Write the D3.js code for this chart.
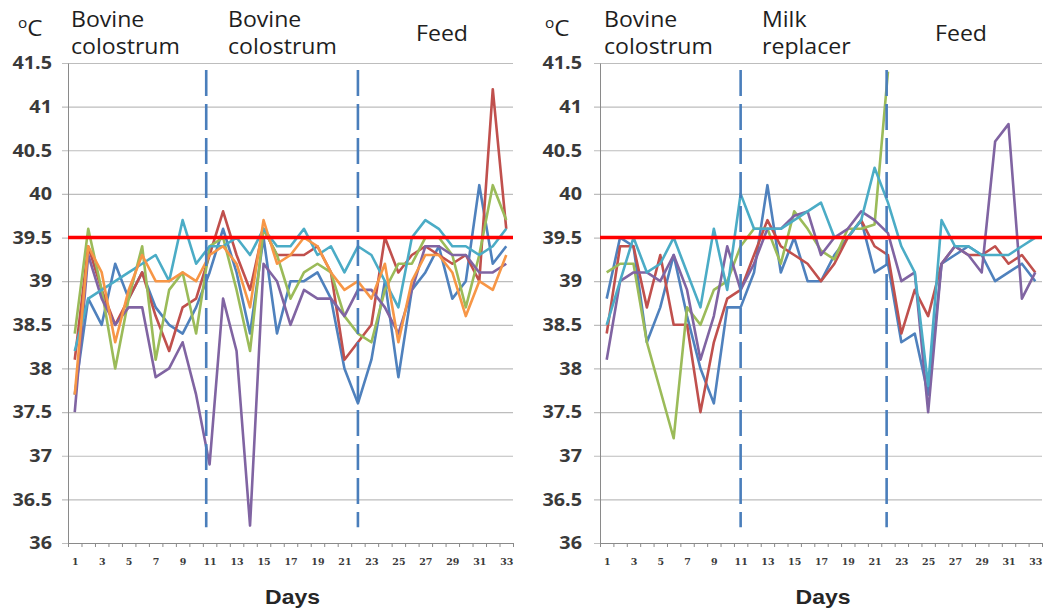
<!DOCTYPE html>
<html>
<head>
<meta charset="utf-8">
<script src="https://cdn.jsdelivr.net/npm/d3@7"></script>
<style>
  body { margin: 0; background: #fff; }
  .grid line { stroke: #bdbdbd; stroke-width: 1.2; }
  .grid path { display: none; }
  .axis path, .axis line { stroke: #8a8a8a; }
  .ylab text { font-family: "Open Sans", sans-serif; font-weight: bold; font-size: 18px; fill: #3a3a3a; }
  .xlab text { font-family: "DejaVu Serif", serif; font-weight: bold; font-size: 9.5px; fill: #3a3a3a; }
  .head { font-family: "Open Sans", sans-serif; font-size: 21px; fill: #1e1e1e; }
  .days { font-family: "Liberation Sans", Arial, sans-serif; font-weight: bold; font-size: 20px; fill: #262626; }
</style>
</head>
<body>
<div class="chart"></div>
<script>
var svgWidth = 1045;
var svgHeight = 613;

// categories and ticks
var days = [1, 2, 3, 4, 5, 6, 7, 8, 9, 10, 11, 12, 13, 14, 15, 16, 17, 18, 19, 20,
  21, 22, 23, 24, 25, 26, 27, 28, 29, 30, 31, 32, 33];
var dayLabels = [1, 3, 5, 7, 9, 11, 13, 15, 17, 19, 21, 23, 25, 27, 29, 31, 33];
var yTicks = [36, 36.5, 37, 37.5, 38, 38.5, 39, 39.5, 40, 40.5, 41, 41.5];
var threshold = 39.5;

// left panel: bovine colostrum / bovine colostrum / feed
var blueL = [37.7, 38.8, 38.5, 39.2, 38.8, 39.1, 38.7, 38.5, 38.4, 38.7, 39.1, 39.6, 39.1, 38.4, 39.5, 38.4, 39.0,
  39.0, 39.1, 38.8, 38.0, 37.6, 38.1, 39.0, 37.9, 38.9, 39.1, 39.4, 38.8, 39.0, 40.1, 39.2, 39.4];
var redL = [38.1, 39.4, 38.9, 38.5, 38.8, 39.1, 38.6, 38.2, 38.7, 38.8, 39.3, 39.8, 39.3, 38.9, 39.6, 39.3, 39.3,
  39.3, 39.4, 39.1, 38.1, 38.3, 38.5, 39.5, 39.1, 39.3, 39.4, 39.3, 39.2, 39.3, 39.0, 41.2, 39.6];
var greenL = [38.4, 39.6, 38.9, 38.0, 38.8, 39.4, 38.1, 38.9, 39.1, 38.4, 39.4, 39.5, 38.9, 38.2, 39.6, 39.3, 38.8,
  39.1, 39.2, 39.1, 38.6, 38.4, 38.3, 38.9, 39.2, 39.2, 39.5, 39.5, 39.3, 38.7, 39.3, 40.1, 39.7];
var purpleL = [37.5, 39.3, 38.8, 38.5, 38.7, 38.7, 37.9, 38.0, 38.3, 37.7, 36.9, 38.8, 38.2, 36.2, 39.2, 39.0, 38.5,
  38.9, 38.8, 38.8, 38.6, 38.9, 38.9, 38.7, 38.4, 38.9, 39.4, 39.4, 39.3, 39.3, 39.1, 39.1, 39.2];
var aquaL = [38.2, 38.8, 38.9, 39.0, 39.1, 39.2, 39.3, 39.0, 39.7, 39.2, 39.4, 39.4, 39.5, 39.3, 39.6, 39.4, 39.4,
  39.6, 39.3, 39.4, 39.1, 39.4, 39.3, 39.0, 38.7, 39.5, 39.7, 39.6, 39.4, 39.4, 39.3, 39.4, 39.6];
var orangeL = [37.7, 39.4, 39.1, 38.3, 38.9, 39.3, 39.0, 39.0, 39.1, 39.0, 39.3, 39.4, 39.2, 38.7, 39.7, 39.2, 39.3,
  39.5, 39.4, 39.1, 38.9, 39.0, 38.8, 39.2, 38.3, 39.0, 39.3, 39.3, 39.1, 38.6, 39.0, 38.9, 39.3];

// right panel: bovine colostrum / milk replacer / feed
var blueR = [38.8, 39.5, 39.4, 38.3, 38.7, 39.3, 38.6, 38.0, 37.6, 38.7, 38.7, 39.1, 40.1, 39.1, 39.5, 39.0, 39.0,
  39.3, 39.5, 39.7, 39.1, 39.2, 38.3, 38.4, 37.7, 39.2, 39.3, 39.4, 39.3, 39.0, 39.1, 39.2, 39.0];
var redR = [38.4, 39.4, 39.4, 38.7, 39.3, 38.5, 38.5, 37.5, 38.3, 38.8, 38.9, 39.3, 39.7, 39.4, 39.3, 39.2, 39.0,
  39.2, 39.5, 39.7, 39.4, 39.3, 38.4, 38.9, 38.6, 39.2, 39.4, 39.3, 39.3, 39.4, 39.2, 39.3, 39.1];
var greenR = [39.1, 39.2, 39.2, 38.3, 37.75, 37.2, 38.7, 38.5, 38.9, 39.0, 39.4, 39.6, 39.6, 39.2, 39.8, 39.6, 39.35,
  39.25, 39.6, 39.6, 39.65, 41.4, null, null, null, null, null, null, null, null, null, null, null];
var purpleR = [38.1, 39.0, 39.1, 39.1, 39.0, 39.3, 38.9, 38.1, 38.6, 39.4, 38.9, 39.2, 39.6, 39.6, 39.75, 39.8, 39.3,
  39.5, 39.6, 39.8, 39.7, 39.55, 39.0, 39.1, 37.5, 39.2, 39.4, 39.3, 39.1, 40.6, 40.8, 38.8, 39.1];
var aquaR = [38.5, 39.0, 39.5, 39.1, 39.2, 39.5, 39.1, 38.7, 39.6, 38.9, 40.0, 39.6, 39.6, 39.6, 39.7, 39.8, 39.9,
  39.5, 39.5, 39.7, 40.3, 39.9, 39.4, 39.1, 37.8, 39.7, 39.4, 39.4, 39.3, 39.3, 39.3, 39.4, 39.5];

var colors = {
  blue: "#4f81bd",
  red: "#c0504d",
  green: "#9bbb59",
  purple: "#8064a2",
  aqua: "#4bacc6",
  orange: "#f79646"
};

// the source picture is a little stretched sideways, so is the text
var stretch = 1.1;

var svg = d3
  .select(".chart")
  .append("svg")
  .attr("width", svgWidth)
  .attr("height", svgHeight);

var plotTop = 63;
var plotBottom = 543;

function drawPanel(p) {
  var width = p.right - p.left;
  var height = plotBottom - plotTop;

  var g = svg.append("g")
    .attr("transform", `translate(${p.left}, ${plotTop})`);

  // day positions: category centres at integers, edges at halves
  var xScale = d3.scaleLinear()
    .domain([0.5, days.length + 0.5])
    .range([0, width]);

  var yScale = d3.scaleLinear()
    .domain([36, 41.5])
    .range([height, 0]);

  // horizontal gridlines (they also act as the y tick marks)
  g.append("g")
    .classed("grid", true)
    .attr("transform", `translate(${width}, 0)`)
    .call(d3.axisLeft(yScale).tickValues(yTicks).tickSize(width + 6).tickFormat(""));

  // y axis line + labels
  var yAxis = g.append("g")
    .classed("axis ylab", true)
    .call(d3.axisLeft(yScale).tickValues(yTicks).tickSize(0).tickFormat(d => String(d)));
  yAxis.selectAll(".tick text")
    .attr("x", 0)
    .attr("transform", `translate(${-p.labelPad}, 0) scale(${stretch}, 1)`);

  // x axis: line with small tick marks at category edges
  var edges = days.map(d => d - 0.5).concat([days.length + 0.5]);
  g.append("g")
    .classed("axis", true)
    .attr("transform", `translate(0, ${height})`)
    .call(d3.axisBottom(xScale).tickValues(edges).tickSize(4).tickSizeOuter(0).tickFormat(""));

  // odd day labels
  g.append("g")
    .classed("xlab", true)
    .attr("transform", `translate(0, ${height})`)
    .call(d3.axisBottom(xScale).tickValues(dayLabels).tickSize(0).tickPadding(15))
    .call(a => a.select(".domain").remove());

  // temperature series
  var line = d3.line()
    .defined(d => d[1] !== null)
    .x(d => xScale(d[0]))
    .y(d => yScale(d[1]));

  p.series.forEach(function(s) {
    g.append("path")
      .datum(days.map((d, i) => [d, s.values[i]]))
      .attr("fill", "none")
      .attr("stroke", s.color)
      .attr("stroke-width", 2.6)
      .attr("stroke-linejoin", "round")
      .attr("d", line);
  });

  // 39.5 reference line
  g.append("line")
    .attr("x1", 0)
    .attr("x2", width)
    .attr("y1", yScale(threshold))
    .attr("y2", yScale(threshold))
    .attr("stroke", "#ff0000")
    .attr("stroke-width", 3.5);

  // feeding period dividers
  p.dividers.forEach(function(v) {
    g.append("line")
      .attr("x1", xScale(v))
      .attr("x2", xScale(v))
      .attr("y1", yScale(41.42))
      .attr("y2", yScale(36.18))
      .attr("stroke", "#4a7ebb")
      .attr("stroke-width", 2.6)
      .attr("stroke-dasharray", "26,8");
  });

  // headings
  var deg = svg.append("text")
    .attr("transform", `translate(${p.degX}, 36) scale(${stretch}, 1)`)
    .attr("font-family", "Open Sans, sans-serif")
    .attr("fill", "#1e1e1e");
  deg.append("tspan").attr("font-size", 14).attr("dy", -8).text("o");
  deg.append("tspan").attr("font-size", 22).attr("dy", 8).text("C");

  p.heads.forEach(function(h) {
    var t = svg.append("text")
      .classed("head", true)
      .attr("transform", `translate(${h.x}, ${h.lines.length > 1 ? 27 : 41}) scale(${stretch}, 1)`);
    h.lines.forEach(function(l, i) {
      t.append("tspan").attr("x", 0).attr("dy", i === 0 ? 0 : 27).text(l);
    });
  });

  svg.append("text")
    .classed("days", true)
    .attr("transform", `translate(${p.left + width / 2 + 2}, 604) scale(1.15, 1)`)
    .attr("text-anchor", "middle")
    .text("Days");
}

drawPanel({
  left: 68,
  right: 513,
  labelPad: 16,
  degX: 18,
  dividers: [10.75, 22],
  series: [
    { values: blueL, color: colors.blue },
    { values: redL, color: colors.red },
    { values: greenL, color: colors.green },
    { values: purpleL, color: colors.purple },
    { values: aquaL, color: colors.aqua },
    { values: orangeL, color: colors.orange }
  ],
  heads: [
    { x: 71, lines: ["Bovine", "colostrum"] },
    { x: 228, lines: ["Bovine", "colostrum"] },
    { x: 416, lines: ["Feed"] }
  ]
});

drawPanel({
  left: 600,
  right: 1042,
  labelPad: 18,
  degX: 545,
  dividers: [11, 21.9],
  series: [
    { values: blueR, color: colors.blue },
    { values: redR, color: colors.red },
    { values: greenR, color: colors.green },
    { values: purpleR, color: colors.purple },
    { values: aquaR, color: colors.aqua }
  ],
  heads: [
    { x: 604, lines: ["Bovine", "colostrum"] },
    { x: 762, lines: ["Milk", "replacer"] },
    { x: 935, lines: ["Feed"] }
  ]
});
</script>
</body>
</html>
